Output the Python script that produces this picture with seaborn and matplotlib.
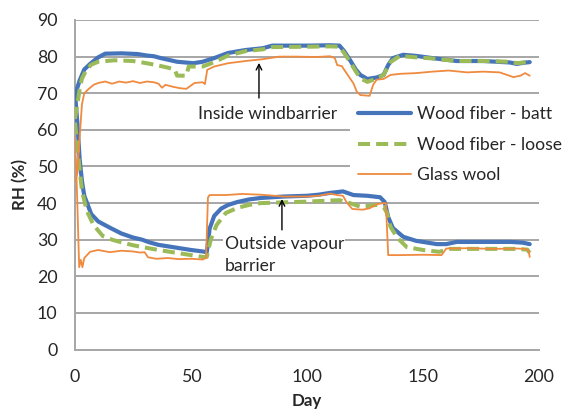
import matplotlib
matplotlib.use("Agg")
import matplotlib.pyplot as plt
import seaborn as sns
import pandas as pd
from matplotlib.lines import Line2D

# ---------------- data ----------------
batt_in_day = [0, 1, 2, 4, 6.5, 10, 13, 20, 27, 31, 34, 37, 44, 51, 55, 60, 66, 73.5, 81, 85, 90, 100,
               110, 114, 116, 118.5, 121, 123, 126, 130, 133, 135, 137, 141.5, 147, 154, 164.5, 176,
               187.5, 190.5, 193, 196]
batt_in_rh = [70, 71.5, 73.5, 76.5, 78, 79.8, 80.8, 80.9, 80.7, 80.3, 80.1, 79.6, 78.6, 78.2, 78.6, 79.6,
              81, 81.8, 82.3, 83, 83, 83, 83.1, 83, 81.5, 79.1, 76.5, 75, 73.9, 74.3, 75, 77.7, 79.6,
              80.5, 80.2, 79.6, 78.8, 78.8, 78.4, 78, 78.3, 78.5]

loose_in_day = [0, 1, 2, 3, 5, 7, 10, 17, 25, 30, 35, 40, 43, 44, 48, 49, 51, 55, 58, 61, 66, 73.5, 81,
                85, 100, 110, 114, 116, 118.5, 121, 123, 126, 130, 133, 136, 140, 147, 154, 164.5, 176,
                187.5, 190.5, 196]
loose_in_rh = [63, 67, 71, 74, 76.5, 77.8, 78.6, 79, 78.8, 78.3, 77.7, 77, 76.5, 74.8, 74.8, 77.3, 77.3,
               77.3, 78, 78.8, 80.3, 81.5, 82, 82.6, 82.7, 82.8, 82.7, 81, 78.6, 76, 74.1, 73.1, 74,
               75, 78.5, 80.2, 79.8, 79.5, 78.8, 78.8, 78.6, 78.2, 78.6]

glass_in_day = [0, 1, 2, 3, 4, 5.6, 8, 10, 13, 16, 19, 22, 25, 28, 31, 34, 36, 37.5, 39, 42, 45, 48, 51.5,
                55, 56, 57, 60, 66, 73.5, 81, 88, 95, 104, 110, 112, 113, 115, 117, 118.5, 120, 121.5,
                123, 127, 128.5, 130, 133, 136, 140, 147, 154, 161, 169, 176, 183, 189, 192, 194, 196]
glass_in_rh = [46, 48, 58, 67, 70, 71, 72.3, 72.8, 73.2, 72.6, 73.2, 72.9, 73.3, 72.8, 73.2, 73, 72.6,
               71.5, 72.3, 71.8, 71.4, 71.2, 72.8, 73, 72.5, 76.4, 77.3, 78.2, 78.8, 79.3, 80, 80, 79.9,
               80.1, 79.6, 77.7, 77.4, 75.5, 74.1, 72.7, 70.4, 69.5, 69.3, 72.3, 73.7, 73.9, 75, 75.3,
               75.5, 75.9, 76.2, 75.7, 75.9, 75.7, 74.4, 74.8, 75.5, 74.8]

batt_out_day = [0, 1, 2, 3, 4, 7, 10, 15, 20, 25, 29, 32, 36, 40, 44, 50, 55, 56.8, 57.5, 58, 60, 63, 66,
                70, 75, 80, 90, 100, 105, 110, 113, 115.5, 120, 126, 131.5, 133.5, 135, 137, 141.5, 147,
                156, 160, 164.5, 176, 188, 193, 196]
batt_out_rh = [70, 62, 52, 46, 42, 37, 35, 33.3, 31.7, 30.6, 30, 29.3, 28.6, 28.2, 27.8, 27.2, 26.8,
               26.6, 30, 33, 36.5, 38.5, 39.5, 40.3, 41, 41.4, 41.8, 42, 42.3, 42.8, 43, 43.2, 42.2, 42,
               41.6, 40.3, 36.2, 33.2, 30.8, 29.7, 28.8, 28.8, 29.4, 29.4, 29.4, 29.2, 28.8]

loose_out_day = [0, 1, 2, 3, 5, 8, 12, 16, 20, 25, 29, 36, 44, 50, 55, 56.8, 58.5, 61, 65, 70, 75, 80,
                 90, 100, 110, 114, 118.5, 123, 130, 133, 134.5, 136, 139, 143, 150, 157, 161.5, 170,
                 190, 195, 196]
loose_out_rh = [62, 56, 49, 43.5, 38, 34, 31, 30, 29.3, 28.5, 28, 27.2, 26.4, 25.8, 25.3, 25.3, 30, 34,
                37.3, 38.7, 39.5, 40, 40.2, 40.4, 40.7, 40.8, 40, 39, 39.5, 39, 37.3, 33.5, 30.5, 28,
                27.2, 26.7, 27.5, 27.5, 27.5, 27.3, 26.4]

glass_out_day = [0, 0.5, 1, 1.8, 2.5, 3.2, 4, 6.5, 10, 15, 20, 25, 28, 30, 31.5, 35, 40, 45, 50, 55, 56.5,
                 57.3, 58, 65, 72, 80, 90, 100, 105, 110, 113, 115.5, 117, 119.5, 124, 127, 130, 133,
                 134, 135, 140, 150, 158, 160, 170, 180, 190, 194, 195.5, 196]
glass_out_rh = [58, 50, 40, 22.5, 24.5, 22.5, 25, 26.7, 27.2, 26.6, 27, 26.8, 26.5, 26.6, 25.2, 24.8, 25,
                24.7, 24.8, 24.6, 25, 41.5, 42.2, 42.2, 42.5, 42.3, 41.8, 41.8, 42, 42.6, 42.2, 42, 40.3,
                38.4, 38.2, 38.6, 39.7, 40, 40, 25.8, 25.8, 25.9, 25.8, 27.6, 27.7, 27.5, 27.6, 27.5, 27,
                25.3]

series_labels = ["Wood fiber - batt", "Wood fiber - loose", "Glass wool"]
x_ticks = [0, 50, 100, 150, 200]
y_ticks = [0, 10, 20, 30, 40, 50, 60, 70, 80, 90]

# ---------------- style ----------------
sns.set_style("white")
plt.rcParams["font.family"] = ["Lato", "DejaVu Sans"]

BLUE = "#4574BA"
GREEN = "#9BBB59"
ORANGE = "#EF8A3F"
GRID = "#A6A6A6"
TXT = "#262626"
FS = 12.6

fig = plt.figure(figsize=(5.66, 4.12), dpi=100)
ax = fig.add_axes([75 / 566, (412 - 349.6) / 412, 464 / 566, 329.6 / 412])

styles = {
    "Wood fiber - batt": dict(color=BLUE, lw=3.0, solid_capstyle="round"),
    "Wood fiber - loose": dict(color=GREEN, lw=2.9, dashes=(3.0, 1.5), dash_capstyle="butt"),
    "Glass wool": dict(color=ORANGE, lw=1.3),
}

lines = [
    ("Wood fiber - batt", batt_in_day, batt_in_rh),
    ("Wood fiber - batt", batt_out_day, batt_out_rh),
    ("Wood fiber - loose", loose_in_day, loose_in_rh),
    ("Wood fiber - loose", loose_out_day, loose_out_rh),
    ("Glass wool", glass_in_day, glass_in_rh),
    ("Glass wool", glass_out_day, glass_out_rh),
]
z = 3
for name, d, r in lines:
    df = pd.DataFrame({"day": d, "rh": r})
    st = dict(styles[name])
    dashes = st.pop("dashes", None)
    sns.lineplot(data=df, x="day", y="rh", ax=ax, sort=False, estimator=None, zorder=z, **st)
    if dashes is not None:
        ax.lines[-1].set_dashes(dashes)
    z += 0.1

ax.set_xlim(0, 200)
ax.set_ylim(0, 90)
ax.set_xticks(x_ticks)
ax.set_yticks(y_ticks)
ax.yaxis.grid(True, color=GRID, lw=1.4)
ax.xaxis.grid(False)
ax.set_axisbelow(True)
for s in ["top", "right"]:
    ax.spines[s].set_visible(False)
for s in ["left", "bottom"]:
    ax.spines[s].set_color(GRID)
    ax.spines[s].set_linewidth(1.4)
ax.tick_params(axis="both", which="major", direction="out", length=4.5, width=1.2, color=GRID,
               labelsize=12.8, labelcolor=TXT)
ax.tick_params(axis="x", pad=9.5)
ax.tick_params(axis="y", pad=8)
ax.set_xlabel("Day", fontsize=12.2, fontweight="bold", color=TXT, labelpad=6)
ax.set_ylabel("RH (%)", fontsize=12.2, fontweight="bold", color=TXT, labelpad=6)

# annotations
ax.text(82.8, 64.4, "Inside windbarrier", ha="center", va="center", fontsize=FS, color=TXT, zorder=5)
ax.annotate("", xy=(79.3, 78.3), xytext=(79.3, 68.7),
            arrowprops=dict(arrowstyle="->", color="black", lw=1, shrinkA=0, shrinkB=0), zorder=6)
ax.text(64.5, 25.8, "Outside vapour\nbarrier", ha="left", va="center", fontsize=FS, color=TXT,
        linespacing=1.45, zorder=5,
        bbox=dict(facecolor="white", edgecolor="none", pad=1))
ax.annotate("", xy=(89.2, 41.1), xytext=(89.2, 32.7),
            arrowprops=dict(arrowstyle="->", color="black", lw=1, shrinkA=0, shrinkB=0), zorder=6)

handles = [Line2D([], [], **{k: v for k, v in styles[n].items() if k != "dashes"}) for n in series_labels]
handles[1].set_dashes(styles["Wood fiber - loose"]["dashes"])
leg = ax.legend(handles, series_labels, loc="upper left", bbox_to_anchor=(0.593, 0.762),
                borderaxespad=0, borderpad=0.45, frameon=True, fancybox=False, fontsize=FS,
                handlelength=3.0, handletextpad=0.35, labelspacing=0.83)
leg.get_frame().set_facecolor("white")
leg.get_frame().set_edgecolor("none")
leg.get_frame().set_alpha(1)
for t in leg.get_texts():
    t.set_color(TXT)

fig.savefig("out.png", dpi=100)
